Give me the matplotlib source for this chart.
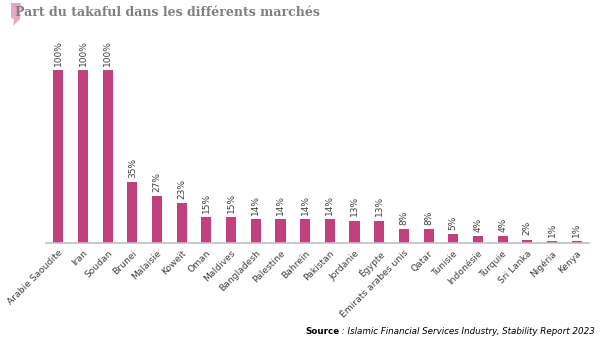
import numpy as np
import matplotlib
matplotlib.use('Agg')
import matplotlib.pyplot as plt
from matplotlib.patches import Polygon

# Data
countries = ['Arabie Saoudite', 'Iran', 'Soudan', 'Brunei', 'Malaisie', 'Koweït', 'Oman',
             'Maldives', 'Bangladesh', 'Palestine', 'Bahreïn', 'Pakistan', 'Jordanie', 'Égypte',
             'Émirats arabes unis', 'Qatar', 'Tunisie', 'Indonésie', 'Turquie', 'Sri Lanka',
             'Nigéria', 'Kenya']
shares = [100, 100, 100, 35, 27, 23, 15, 15, 14, 14, 14, 14, 13, 13, 8, 8, 5, 4, 4, 2, 1, 1]

W, H = 600, 341
fig = plt.figure(figsize=(W / 100, H / 100), dpi=100)
fig.patch.set_facecolor('white')

bar_color = '#C2407E'
text_color = '#404040'

ax = fig.add_axes([46 / W, 1 - 243 / H, 543 / W, 173 / H])
x = np.arange(len(countries))
ax.bar(x, shares, width=0.41, color=bar_color)
ax.set_xlim(-0.5, len(countries) - 0.5)
ax.set_ylim(0, 100)

for side in ['top', 'right', 'left']:
    ax.spines[side].set_visible(False)
ax.spines['bottom'].set_color('#bfbfbf')
ax.spines['bottom'].set_linewidth(1.2)
ax.set_yticks([])
ax.set_xticks(x)
ax.set_xticklabels(countries, rotation=45, ha='right', rotation_mode='anchor',
                   fontsize=6.6, color=text_color)
ax.tick_params(axis='x', length=0, pad=4)

# value labels above bars
for xi, v in zip(x, shares):
    ax.annotate(f'{v}%', (xi, v), xytext=(0, 3), textcoords='offset points',
                rotation=90, ha='center', va='bottom', fontsize=6.5,
                color=text_color, annotation_clip=False)

# title with pink mark
mark = [(11, 3), (21, 3), (20, 19), (13, 26), (14, 19), (11, 18)]
fig.patches.append(Polygon([(px / W, 1 - py / H) for px, py in mark], closed=True,
                           transform=fig.transFigure, facecolor='#E6A8C8',
                           edgecolor='none', zorder=0))
fig.text(15 / W, 1 - 13 / H, 'Part du takaful dans les différents marchés',
         fontsize=9, fontweight='bold', family='DejaVu Serif', color='#7f7f7f',
         ha='left', va='center', zorder=2)

# source line
src = fig.text(595 / W, 1 - 332 / H,
               ' : Islamic Financial Services Industry, Stability Report 2023',
               fontsize=6.3, style='italic', color='black', ha='right', va='center')
fig.canvas.draw()
bb = src.get_window_extent()
fig.text(bb.x0 / W, 1 - 332 / H, 'Source', fontsize=6.3, fontweight='bold',
         color='black', ha='right', va='center')

fig.savefig('out.png', dpi=100, facecolor='white')
